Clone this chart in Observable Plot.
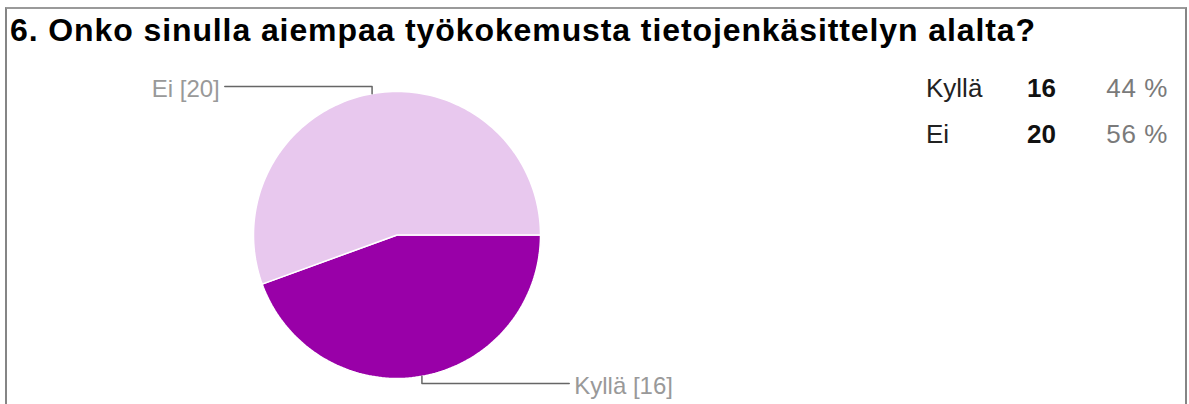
<!DOCTYPE html>
<html>
<head>
<meta charset="utf-8">
<script src="https://cdn.jsdelivr.net/npm/d3@7"></script>
<script src="https://cdn.jsdelivr.net/npm/@observablehq/plot@0.6"></script>
<style>
  html, body { margin: 0; padding: 0; background: #fff; }
  body { width: 1189px; height: 404px; position: relative; overflow: hidden; font-family: "Liberation Sans", Arial, sans-serif; }
  #frame { position: absolute; left: 5px; top: 7px; width: 1182px; height: 420px; box-sizing: border-box;
           border-left: 2px solid #858585; border-right: 2px solid #858585; border-top: 2px solid #9a9a9a; }
  #title { position: absolute; left: 10px; top: 14px; font-size: 32px; line-height: 32px; font-weight: bold; color: #000; letter-spacing: 0.9px; white-space: nowrap; }
  #chart { position: absolute; left: 0; top: 50px; }
  .cell { position: absolute; font-size: 26px; line-height: 26px; white-space: nowrap; }
  .name { color: #222; }
  .num { color: #111; font-weight: bold; }
  .pct { color: #7a7a7a; text-align: right; letter-spacing: 0.6px; }
</style>
</head>
<body>
<div id="frame"></div>
<div id="title"></div>
<div id="chart"></div>
<div id="table"></div>
<script>
// ---- data ----
const title = "6. Onko sinulla aiempaa työkokemusta tietojenkäsittelyn alalta?";
const categories = ["Kyllä", "Ei"];
const counts = [16, 20];

// ---- styling ----
const palette = ["#9900a8", "#e8c8ee"];

document.getElementById("title").textContent = title;

const rows = categories.map((name, i) => ({name, count: counts[i]}));
const total = d3.sum(counts);

const pie = d3.pie().sort(null).value(d => d.count)
  .startAngle(Math.PI / 2).endAngle(Math.PI / 2 + 2 * Math.PI);
const arcs = pie(rows);

// polygon points for each slice in unit-radius coordinates
const slicePts = [];
const N = 120;
for (const a of arcs) {
  const name = a.data.name;
  slicePts.push({name, x: 0, y: 0});
  for (let i = 0; i <= N; i++) {
    const t = a.startAngle + (a.endAngle - a.startAngle) * i / N;
    slicePts.push({name, x: Math.sin(t), y: -Math.cos(t)});
  }
  slicePts.push({name, x: 0, y: 0});
}

// leader lines and labels
const leaderPts = [];
const labels = [];
for (const a of arcs) {
  const name = a.data.name;
  const m = (a.startAngle + a.endAngle) / 2;
  const px = Math.sin(m), py = -Math.cos(m);
  const ey = py * 1.05;
  const side = px >= 0 ? 1 : -1;
  const ex = side * 1.2;
  leaderPts.push({name, x: px, y: py}, {name, x: px, y: ey}, {name, x: ex, y: ey});
  labels.push({name, x: ex + side * 0.035, y: ey, text: `${name} [${a.data.count}]`, anchor: side > 0 ? "start" : "end"});
}

const chart = Plot.plot({
  width: 1189,
  height: 354,
  margin: 0,
  x: {domain: [-1, 1], range: [253, 540], axis: null},
  y: {domain: [-1, 1], range: [41, 328], axis: null},
  color: {domain: categories, range: palette},
  marks: [
    Plot.line(slicePts, {x: "x", y: "y", z: "name", fill: "name", stroke: "#fff", strokeWidth: 1.5, curve: "linear"}),
    Plot.line(leaderPts, {x: "x", y: "y", z: "name", stroke: "#666", strokeWidth: 1.5, curve: "linear"}),
    Plot.text(labels.filter(d => d.anchor === "end"), {x: "x", y: "y", text: "text", textAnchor: "end", dy: 3, fill: "#999", fontSize: 24, fontFamily: "Liberation Sans, Arial, sans-serif"}),
    Plot.text(labels.filter(d => d.anchor === "start"), {x: "x", y: "y", text: "text", textAnchor: "start", dy: 3, fill: "#999", fontSize: 24, fontFamily: "Liberation Sans, Arial, sans-serif"})
  ]
});
document.getElementById("chart").appendChild(chart);

// summary table
const table = document.getElementById("table");
rows.forEach((r, i) => {
  const top = 75 + i * 46;
  const pct = Math.round(r.count / total * 100) + " %";
  const mk = (cls, txt, style) => {
    const s = document.createElement("div");
    s.className = "cell " + cls;
    s.textContent = txt;
    Object.assign(s.style, style, {top: top + "px"});
    table.appendChild(s);
  };
  mk("name", r.name, {left: "926px"});
  mk("num", String(r.count), {left: "1027px"});
  mk("pct", pct, {right: (1189 - 1168) + "px"});
});
</script>
</body>
</html>
